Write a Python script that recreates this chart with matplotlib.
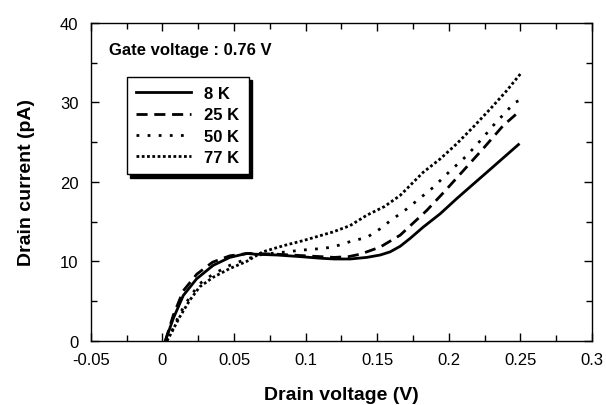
import matplotlib as mpl
mpl.use("Agg")
import matplotlib.pyplot as plt
from matplotlib.ticker import MultipleLocator, FuncFormatter

# Drain current vs drain voltage
v_8k = [0.002, 0.0075, 0.0145, 0.0238, 0.0354, 0.047, 0.0588, 0.065, 0.080,
        0.096, 0.110, 0.120, 0.131, 0.1426, 0.152, 0.159, 0.166, 0.173,
        0.182, 0.194, 0.2055, 0.215, 0.229, 0.2486]
i_8k = [0.0, 2.8, 5.7, 7.8, 9.5, 10.5, 11.0, 10.9, 10.8,
        10.6, 10.4, 10.3, 10.3, 10.5, 10.8, 11.2, 11.9, 12.9,
        14.3, 16.0, 17.9, 19.4, 21.6, 24.7]

v_25k = [0.002, 0.0075, 0.0145, 0.024, 0.035, 0.047, 0.060, 0.080, 0.100,
         0.120, 0.130, 0.138, 0.152, 0.166, 0.1845, 0.197, 0.210, 0.224,
         0.238, 0.250]
i_25k = [0.0, 3.2, 6.3, 8.4, 9.9, 10.7, 11.0, 10.9, 10.7,
         10.5, 10.6, 10.9, 11.8, 13.3, 16.4, 18.8, 21.4, 24.2,
         27.1, 29.0]

v_50k = [0.003, 0.006, 0.012, 0.019, 0.026, 0.0354, 0.047, 0.0588, 0.070,
         0.087, 0.096, 0.110, 0.119, 0.133, 0.1426, 0.152, 0.159, 0.166,
         0.1706, 0.189, 0.201, 0.2125, 0.224, 0.231, 0.246, 0.250]
i_50k = [0.0, 1.0, 3.4, 5.5, 7.2, 8.4, 9.5, 10.3, 10.9,
         11.2, 11.4, 11.6, 11.8, 12.6, 13.0, 14.1, 15.1, 16.0,
         16.6, 19.3, 21.4, 23.3, 25.6, 27.1, 30.0, 30.3]

v_77k = [0.003, 0.005, 0.012, 0.019, 0.026, 0.0354, 0.047, 0.0588, 0.070,
         0.085, 0.098, 0.119, 0.131, 0.1426, 0.155, 0.166, 0.182, 0.194,
         0.2055, 0.217, 0.229, 0.240, 0.250]
i_77k = [0.0, 0.6, 3.0, 5.1, 6.8, 8.0, 9.1, 10.0, 11.2,
         12.0, 12.6, 13.7, 14.5, 15.8, 16.9, 18.3, 21.2, 22.9,
         24.8, 26.9, 29.2, 31.4, 33.6]

labels = ["8 K", "25 K", "50 K", "77 K"]

plt.rcParams["font.family"] = ["Liberation Sans", "DejaVu Sans"]
plt.rcParams["axes.unicode_minus"] = False

fig = plt.figure(figsize=(6.06, 4.06), dpi=100)
ax = fig.add_axes([0.150, 0.158, 0.827, 0.783])

lw = 2.0
ax.plot(v_8k, i_8k, color="black", lw=lw, ls="-", label=labels[0])
ax.plot(v_25k, i_25k, color="black", lw=lw, ls=(0, (4, 2.4)), label=labels[1])
ax.plot(v_50k, i_50k, color="black", lw=lw, ls=(0, (1, 3)), label=labels[2])
ax.plot(v_77k, i_77k, color="black", lw=lw, ls=(0, (1, 0.9)), label=labels[3])

ax.set_xlim(-0.05, 0.3)
ax.set_ylim(0, 40)
ax.xaxis.set_major_locator(MultipleLocator(0.05))
ax.xaxis.set_minor_locator(MultipleLocator(0.025))
ax.yaxis.set_major_locator(MultipleLocator(10))
ax.yaxis.set_minor_locator(MultipleLocator(5))
ax.xaxis.set_major_formatter(FuncFormatter(lambda v, p: f"{v:g}" if abs(v) > 1e-9 else "0"))

ax.tick_params(which="both", direction="in", top=True, right=True,
               labelsize=12, width=1, colors="black")
ax.tick_params(which="major", length=6)
ax.tick_params(which="minor", length=4)
ax.tick_params(axis="x", pad=8)
ax.tick_params(axis="y", pad=9)
for sp in ax.spines.values():
    sp.set_linewidth(1.0)

ax.set_xlabel("Drain voltage (V)", fontsize=14, fontweight="bold", labelpad=14)
ax.set_ylabel("Drain current (pA)", fontsize=14, fontweight="bold", labelpad=18)

ax.text(0.036, 0.915, "Gate voltage : 0.76 V", transform=ax.transAxes,
        fontsize=12, fontweight="bold", va="center", ha="left")

leg = ax.legend(loc="upper left", bbox_to_anchor=(0.072, 0.830),
                borderaxespad=0, fancybox=False, framealpha=1,
                edgecolor="black", handlelength=3.3, labelspacing=0.38,
                handletextpad=0.8, borderpad=0.55,
                prop={"size": 12, "weight": "bold"},
                shadow={"color": "black", "alpha": 1, "ox": 2.5, "oy": -2.5})
leg.get_frame().set_linewidth(1.0)

fig.savefig("out.png", dpi=100)
